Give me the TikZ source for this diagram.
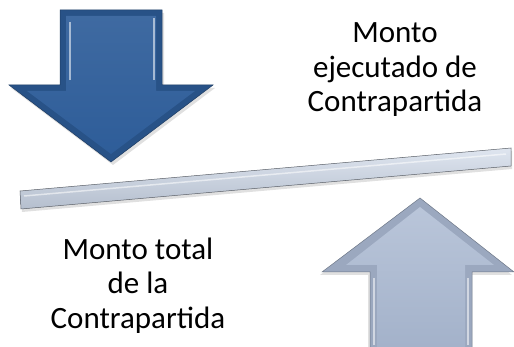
\documentclass[tikz,border=0pt]{standalone}
\usepackage{fontspec}
\setmainfont{Carlito}
\definecolor{dkblue}{HTML}{2E5D99}
\definecolor{ltblue}{HTML}{A8B7D0}
\definecolor{plankcol}{HTML}{C9D4E5}

\begin{document}
\begin{tikzpicture}[x=1pt,y=-1pt,
   lbl/.style={font=\fontsize{31}{34.5}\selectfont,align=center,inner sep=0pt},
   dkedge/.style={fill=dkblue!88!black,draw=dkblue!65!black,line width=0.5pt},
   dkface/.style={top color=dkblue!92!white,bottom color=dkblue},
   ltedge/.style={fill=ltblue!92!black,draw=ltblue!65!black,line width=0.5pt},
   ltface/.style={top color=ltblue!80!white,bottom color=ltblue!97!black},
   shine/.style={draw=white,opacity=0.55,line width=1.5pt},
   plank/.style={top color=plankcol!60!white,bottom color=plankcol!90!black,draw=plankcol!45!black,line width=0.5pt},
   shadow/.style={fill=black,opacity=0.12}]
\useasboundingbox (0,0) rectangle (514,347);

\coordinate (D1) at (60,10);
\coordinate (D2) at (162,10);
\coordinate (D3) at (162,85);
\coordinate (D4) at (213,85);
\coordinate (Dtip) at (111,162);
\coordinate (D6) at (9,85);
\coordinate (D7) at (60,85);
\fill[shadow] ([shift={(2,3)}]D1) -- ([shift={(2,3)}]D2) -- ([shift={(2,3)}]D3) -- ([shift={(2,3)}]D4)
   -- ([shift={(2,3)}]Dtip) -- ([shift={(2,3)}]D6) -- ([shift={(2,3)}]D7) -- cycle;
\path[dkedge] (D1) -- (D2) -- (D3) -- (D4) -- (Dtip) -- (D6) -- (D7) -- cycle;
\path[dkface] (66,16) -- (156,16) -- (156,91) -- (195,91) -- (111,154) -- (27,91) -- (66,91) -- cycle;
\draw[shine] (70,22) -- (70,80);
\draw[shine] (154,18) -- (154,80);

\coordinate (U1) at (420,198);
\coordinate (U2) at (514,272);
\coordinate (U3) at (472,272);
\coordinate (U4) at (472,350);
\coordinate (U5) at (370,350);
\coordinate (U6) at (370,272);
\coordinate (U7) at (322,272);
\fill[shadow] ([shift={(-2,3)}]U1) -- ([shift={(-2,3)}]U2) -- ([shift={(-2,3)}]U3) -- ([shift={(-2,3)}]U4)
   -- ([shift={(-2,3)}]U5) -- ([shift={(-2,3)}]U6) -- ([shift={(-2,3)}]U7) -- cycle;
\path[ltedge] (U1) -- (U2) -- (U3) -- (U4) -- (U5) -- (U6) -- (U7) -- cycle;
\path[ltface] (420,207) -- (494,265) -- (465,265) -- (465,350) -- (377,350) -- (377,265) -- (346,265) -- cycle;
\draw[shine] (374,278) -- (374,345);
\draw[shine] (468,278) -- (468,345);

\coordinate (P1) at (20,191);
\coordinate (P2) at (511,148);
\coordinate (P3) at (511,166);
\coordinate (P4) at (21,209);
\fill[shadow] ([shift={(1,3)}]P1) -- ([shift={(1,3)}]P2) -- ([shift={(1,3)}]P3) -- ([shift={(1,3)}]P4) -- cycle;
\path[plank] (P1) -- (P2) -- (P3) -- (P4) -- cycle;
\draw[shine] (24,196) -- (506,154);

\node[lbl,anchor=base] (ejec) at (395,112) {Monto\\ejecutado de\\Contrapartida};
\node[lbl,anchor=base] (total) at (138,328) {Monto total\\de la\\Contrapartida};
\end{tikzpicture}
\end{document}
